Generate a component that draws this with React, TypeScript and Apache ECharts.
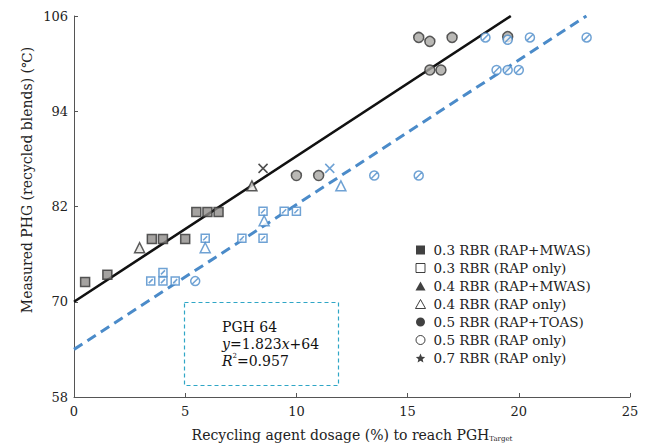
import React, { useEffect, useRef } from "react";
import * as echarts from "echarts";

// ---- data ----
const grayLineEnds: number[][] = [[0, 70], [19.64, 106]];
const blueLineEnds: number[][] = [[0, 64], [23.04, 106]];

const graySquares: number[][] = [[0.5, 72.5], [1.5, 73.4], [3.5, 77.9], [4.0, 77.9], [5.0, 77.9], [5.5, 81.3], [6.0, 81.3], [6.5, 81.3]];
const grayTriangles: number[][] = [[2.95, 76.8], [8.0, 84.6]];
const grayCircles: number[][] = [[10.0, 85.9], [11.0, 85.9], [15.5, 103.3], [16.0, 102.8], [17.0, 103.3], [19.5, 103.4], [16.0, 99.2], [16.5, 99.2]];
const grayCross: number[][] = [[8.5, 86.8]];

const blueSquares: number[][] = [[3.45, 72.6], [4.0, 72.6], [4.55, 72.6], [4.0, 73.7], [5.9, 78.0], [7.55, 78.0], [8.5, 78.0], [8.5, 81.4], [9.45, 81.4], [10.0, 81.4]];
const blueTriangles: number[][] = [[5.9, 76.8], [8.55, 80.2], [12.0, 84.6]];
const blueCircles: number[][] = [[5.45, 72.6], [13.5, 85.9], [15.5, 85.9], [18.5, 103.3], [19.5, 103.0], [20.5, 103.3], [23.05, 103.3], [19.0, 99.2], [19.5, 99.2], [20.0, 99.2]];
const blueCross: number[][] = [[11.5, 86.8]];

const legendNames: string[] = [
  "0.3 RBR (RAP+MWAS)",
  "0.3 RBR (RAP only)",
  "0.4 RBR (RAP+MWAS)",
  "0.4 RBR (RAP only)",
  "0.5 RBR (RAP+TOAS)",
  "0.5 RBR (RAP only)",
  "0.7 RBR (RAP only)",
];

const xTicks = { min: 0, max: 25, interval: 5 };
const yTicks = { min: 58, max: 106, interval: 12 };

const FONT = "'DejaVu Serif', 'Liberation Serif', serif";
const BLUE = "#4b8bc9";
const GRAY_FILL = "#a8a6a3";
const GRAY_BORDER = "#333333";

const HATCH_SQUARE = "path://M0,0 L20,0 L20,20 L0,20 Z M5,15 L15,5";
const HATCH_CIRCLE = "path://M0,10 A10,10 0 1 1 20,10 A10,10 0 1 1 0,10 Z M4,16 L16,4";
const CROSS = "path://M0,0 L20,20 M20,0 L0,20";
const STAR = "path://M10,0 L12.9,6.9 L20,7.6 L14.6,12.3 L16.2,19.3 L10,15.6 L3.8,19.3 L5.4,12.3 L0,7.6 L7.1,6.9 Z";
const SQUARE_ICON = "path://M0,0 L20,0 L20,20 L0,20 Z";
const TRI_ICON = "path://M10,0 L20,18 L0,18 Z";
const CIRCLE_ICON = "path://M0,10 A10,10 0 1 1 20,10 A10,10 0 1 1 0,10 Z";

export default function App() {
  const ref = useRef<HTMLDivElement>(null);
  useEffect(() => {
    if (!ref.current) return;
    const chart = echarts.init(ref.current, null, { renderer: "svg" });
    const option: any = {
      animation: false,
      backgroundColor: "#ffffff",
      textStyle: { fontFamily: FONT },
      grid: { left: 74, right: 21, top: 16, bottom: 48, containLabel: false },
      xAxis: {
        type: "value",
        min: xTicks.min,
        max: xTicks.max,
        interval: xTicks.interval,
        name: "Recycling agent dosage (%) to reach PGH{sub|Target}",
        nameLocation: "middle",
        nameGap: 30,
        nameTextStyle: {
          fontFamily: FONT,
          fontSize: 14,
          color: "#222",
          rich: { sub: { fontFamily: FONT, fontSize: 7, color: "#222", verticalAlign: "bottom", padding: [8, 0, 0, 0] } },
        },
        axisLine: { lineStyle: { color: "#555", width: 1 } },
        axisTick: { inside: true, length: 4, lineStyle: { color: "#555" } },
        axisLabel: { fontFamily: FONT, fontSize: 13, color: "#222", margin: 8 },
        splitLine: { show: false },
      },
      yAxis: {
        type: "value",
        min: yTicks.min,
        max: yTicks.max,
        interval: yTicks.interval,
        axisLine: { show: true, lineStyle: { color: "#555", width: 1 } },
        axisTick: { show: true, inside: true, length: 4, lineStyle: { color: "#555" } },
        axisLabel: { fontFamily: FONT, fontSize: 13, color: "#222", margin: 6 },
        splitLine: { show: false },
      },
      legend: {
        orient: "vertical",
        left: 410,
        top: 238,
        itemWidth: 16,
        itemHeight: 9,
        itemGap: 4,
        selectedMode: false,
        symbolKeepAspect: true,
        textStyle: { fontFamily: FONT, fontSize: 13.5, color: "#222", lineHeight: 14 },
        data: [
          { name: legendNames[0], icon: SQUARE_ICON, itemStyle: { color: "#111", borderWidth: 0 } },
          { name: legendNames[1], icon: SQUARE_ICON, itemStyle: { color: "#fff", borderColor: "#111", borderWidth: 1 } },
          { name: legendNames[2], icon: TRI_ICON, itemStyle: { color: "#111", borderWidth: 0 } },
          { name: legendNames[3], icon: TRI_ICON, itemStyle: { color: "#fff", borderColor: "#111", borderWidth: 1 } },
          { name: legendNames[4], icon: CIRCLE_ICON, itemStyle: { color: "#111", borderWidth: 0 } },
          { name: legendNames[5], icon: CIRCLE_ICON, itemStyle: { color: "#fff", borderColor: "#111", borderWidth: 1 } },
          { name: legendNames[6], icon: STAR, itemStyle: { color: "#111", borderWidth: 0 } },
        ],
      },
      graphic: [
        {
          type: "text",
          x: 27,
          y: 180,
          rotation: Math.PI / 2,
          style: {
            text: "Measured PHG (recycled blends) (℃)",
            font: `14px ${FONT}`,
            fill: "#222",
            align: "center",
            verticalAlign: "middle",
          },
        },
        {
          type: "rect",
          shape: { x: 184.5, y: 302.5, width: 154, height: 83 },
          style: { fill: "none", stroke: "#2fa6c6", lineWidth: 1.2, lineDash: [4, 3] },
        },
        {
          type: "text",
          x: 222,
          y: 318,
          style: {
            text: "PGH 64\n{i|y}=1.823{i|x}+64\n{i|R}{sup|2}=0.957",
            font: `14px ${FONT}`,
            fill: "#111",
            lineHeight: 17,
            rich: {
              i: { fontStyle: "italic", fontFamily: FONT, fontSize: 14, lineHeight: 17 },
              sup: { fontFamily: FONT, fontSize: 7, verticalAlign: "top", lineHeight: 17, padding: [0, 0, 8, 0] },
            },
          },
        },
      ],
      series: [
        {
          name: "gray fit",
          type: "line",
          data: grayLineEnds,
          showSymbol: false,
          symbol: "none",
          lineStyle: { color: "#111", width: 2.6 },
          z: 1,
        },
        {
          name: "blue fit",
          type: "line",
          data: blueLineEnds,
          showSymbol: false,
          symbol: "none",
          lineStyle: { color: BLUE, width: 3, type: [10, 6] },
          z: 1,
        },
        {
          name: legendNames[0],
          type: "scatter",
          data: graySquares,
          symbol: "rect",
          symbolSize: 9,
          itemStyle: { color: "#8e8c89", borderColor: GRAY_BORDER, borderWidth: 1.5 },
          z: 3,
        },
        {
          name: legendNames[1],
          type: "scatter",
          data: blueSquares,
          symbol: HATCH_SQUARE,
          symbolSize: 8,
          itemStyle: { color: "#ffffff", borderColor: BLUE, borderWidth: 1.5 },
          z: 3,
        },
        {
          name: legendNames[2],
          type: "scatter",
          data: grayTriangles,
          symbol: "triangle",
          symbolSize: 10,
          itemStyle: { color: "#e4e2e0", borderColor: GRAY_BORDER, borderWidth: 1.5 },
          z: 3,
        },
        {
          name: legendNames[3],
          type: "scatter",
          data: blueTriangles,
          symbol: "triangle",
          symbolSize: 10,
          itemStyle: { color: "#ffffff", borderColor: BLUE, borderWidth: 1.5 },
          z: 3,
        },
        {
          name: legendNames[4],
          type: "scatter",
          data: grayCircles,
          symbol: "circle",
          symbolSize: 10,
          itemStyle: { color: GRAY_FILL, borderColor: GRAY_BORDER, borderWidth: 1.5 },
          z: 3,
        },
        {
          name: legendNames[5],
          type: "scatter",
          data: blueCircles,
          symbol: HATCH_CIRCLE,
          symbolSize: 9,
          itemStyle: { color: "#ffffff", borderColor: BLUE, borderWidth: 1.5 },
          z: 3,
        },
        {
          name: legendNames[6],
          type: "scatter",
          data: grayCross,
          symbol: CROSS,
          symbolSize: 9,
          itemStyle: { color: "#222", borderColor: "#222", borderWidth: 1.5 },
          z: 3,
        },
        {
          name: "0.7 RBR (RAP only) blue",
          type: "scatter",
          data: blueCross,
          symbol: CROSS,
          symbolSize: 9,
          itemStyle: { color: BLUE, borderColor: BLUE, borderWidth: 1.5 },
          z: 3,
        },
      ],
    };
    chart.setOption(option);
    return () => chart.dispose();
  }, []);
  return <div ref={ref} style={{ position: "fixed", left: 0, top: 0, width: 651, height: 447 }} />;
}
